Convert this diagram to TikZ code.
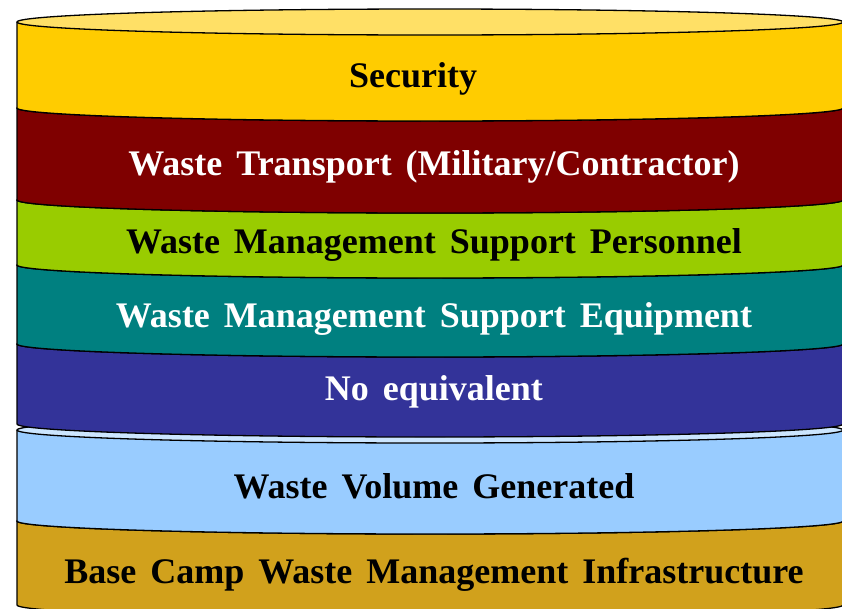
\documentclass[tikz,border=0pt]{standalone}
\usepackage{fontspec}
\setmainfont{Liberation Serif}
\definecolor{cyel}{HTML}{FFCC00}
\definecolor{cyeltop}{HTML}{FFE066}
\definecolor{cred}{HTML}{7F0000}
\definecolor{cgreen}{HTML}{99CC00}
\definecolor{cteal}{HTML}{008080}
\definecolor{cblue}{HTML}{333399}
\definecolor{clblue}{HTML}{99CCFF}
\definecolor{clbluetop}{HTML}{CCE6FF}
\definecolor{cgold}{HTML}{D1A11C}
\newcommand{\lblfont}{\fontsize{36}{40}\selectfont\bfseries\spaceskip 14pt\relax}
\newcommand{\mycan}[4]{%
  % #1 top y, #2 bottom y, #3 body colour, #4 top colour
  \fill[#3] (17,#1) -- (17,#2) arc[start angle=180,end angle=0,x radius=413,y radius=13] -- (843,#1) -- cycle;
  \draw[edge] (17,#1) -- (17,#2) arc[start angle=180,end angle=0,x radius=413,y radius=13] -- (843,#1);
  \draw[edge,fill=#4] (430,#1) ellipse[x radius=413,y radius=13];
}
\begin{document}
\begin{tikzpicture}[x=1pt,y=-1pt,
  edge/.style={draw=black,line width=1.3pt},
  lbl/.style={anchor=base,font=\lblfont,inner sep=0pt}]
\useasboundingbox (0,0) rectangle (842,608);
\clip (0,0) rectangle (842,608);
\mycan{521}{605}{cgold}{cgold}
\mycan{430}{521}{clblue}{clbluetop}
\mycan{344}{424}{cblue}{cblue}
\mycan{265}{344}{cteal}{cteal}
\mycan{200}{265}{cgreen}{cgreen}
\mycan{108}{200}{cred}{cred}
\mycan{22}{108}{cyel}{cyeltop}
\node[lbl,text=black] (sec) at (413,87) {Security};
\node[lbl,text=white] (trn) at (434,175) {Waste Transport (Military/Contractor)};
\node[lbl,text=black] (per) at (434,253) {Waste Management Support Personnel};
\node[lbl,text=white] (eqp) at (434,327) {Waste Management Support Equipment};
\node[lbl,text=white] (neq) at (434,400) {No equivalent};
\node[lbl,text=black] (vol) at (434,498) {Waste Volume Generated};
\node[lbl,text=black] (inf) at (434,583) {Base Camp Waste Management Infrastructure};
\end{tikzpicture}
\end{document}
